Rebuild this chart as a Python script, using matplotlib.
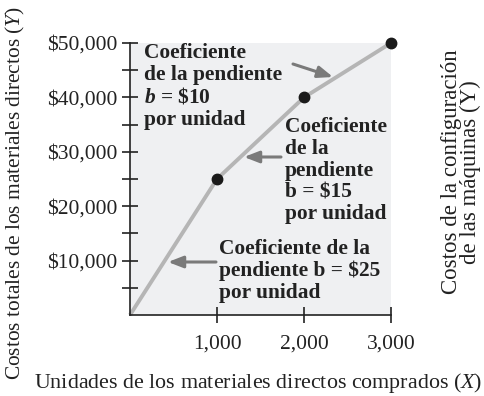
import matplotlib
matplotlib.use("Agg")
import matplotlib.pyplot as plt

units = [0, 1000, 2000, 3000]
costs = [0, 25000, 40000, 50000]
dot_units = [1000, 2000, 3000]
dot_costs = [25000, 40000, 50000]
xticks = [1000, 2000, 3000]
xtick_labels = ["1,000", "2,000", "3,000"]
yticks_major = [10000, 20000, 30000, 40000, 50000]
ytick_labels = ["$10,000", "$20,000", "$30,000", "$40,000", "$50,000"]
yticks_minor = [5000, 15000, 25000, 35000, 45000]

plt.rcParams['font.family'] = ['Liberation Serif', 'DejaVu Serif']
plt.rcParams['mathtext.fontset'] = 'custom'
plt.rcParams['mathtext.rm'] = 'Liberation Serif'
plt.rcParams['mathtext.it'] = 'Liberation Serif:italic'
plt.rcParams['mathtext.bf'] = 'Liberation Serif:bold'
plt.rcParams['mathtext.bfit'] = 'Liberation Serif:italic:bold'

W, H = 485, 396
fig = plt.figure(figsize=(W/100, H/100), dpi=100)
ax = fig.add_axes([130/W, 1-315/H, 261/W, 272/H])
ax.set_facecolor('#eff0f2')
ax.set_xlim(0, 3000)
ax.set_ylim(0, 50000)
for s in ['top', 'right']:
    ax.spines[s].set_visible(False)
for s in ['left', 'bottom']:
    ax.spines[s].set_linewidth(1.2)
    ax.spines[s].set_color('#222222')

ax.plot(units, costs, color='#b5b5b5', lw=2.8, solid_capstyle='butt', zorder=2, clip_on=False)
ax.plot(dot_units, dot_costs, 'o', color='#1a1a1a', ms=7.5, zorder=3, clip_on=False)

ax.set_xticks(xticks)
ax.set_xticklabels(xtick_labels)
ax.set_yticks(yticks_major)
ax.set_yticklabels(ytick_labels)
ax.set_yticks(yticks_minor, minor=True)
ax.tick_params(axis='both', which='both', direction='inout', length=12, width=1.2,
               color='#222222', labelsize=15.5, labelcolor='#222222')
ax.tick_params(axis='y', pad=3)
ax.tick_params(axis='x', pad=8)

txt = '#222222'
fig.text(258/W, 1-383/H, r'Unidades de los materiales directos comprados ($\mathit{X}$)',
         ha='center', va='center', fontsize=15.8, color=txt)
fig.text(15/W, 1-193/H, r'Costos totales de los materiales directos ($\mathit{Y}$)',
         rotation=90, ha='center', va='center', fontsize=15.4, color=txt)
fig.text(461/W, 1-172/H, 'Costos de la configuración\nde las máquinas (Y)',
         rotation=90, ha='center', va='center', fontsize=16.5, color=txt,
         linespacing=0.85)

ann_kw = dict(fontsize=15.4, fontweight='bold', color=txt, ha='left', va='top',
              linespacing=1.12)
arrow = dict(arrowstyle='-|>,head_length=0.9,head_width=0.35', color='#7a7a7a', lw=2.2,
             shrinkA=0, shrinkB=0)

def dx(px):
    return 3000*(px-130)/261

def dy(py):
    return 50000*(315-py)/272

ax.text(dx(144), dy(43), 'Coeficiente\nde la pendiente\n' + r'$\mathbfit{b}$ = \$10' + '\npor unidad',
        **ann_kw)
ax.annotate('', xy=(dx(333), dy(77)), xytext=(dx(293), dy(64)), arrowprops=arrow)

ax.text(dx(285), dy(117), 'Coeficiente\nde la\npendiente\nb = \\$15\npor unidad', **ann_kw)
ax.annotate('', xy=(dx(244), dy(157)), xytext=(dx(281), dy(157)), arrowprops=arrow)

ax.text(dx(219), dy(239), 'Coeficiente de la\npendiente b = \\$25\npor unidad', **ann_kw)
ax.annotate('', xy=(dx(168), dy(262)), xytext=(dx(216), dy(262)), arrowprops=arrow)

fig.savefig('out.png', dpi=100)
